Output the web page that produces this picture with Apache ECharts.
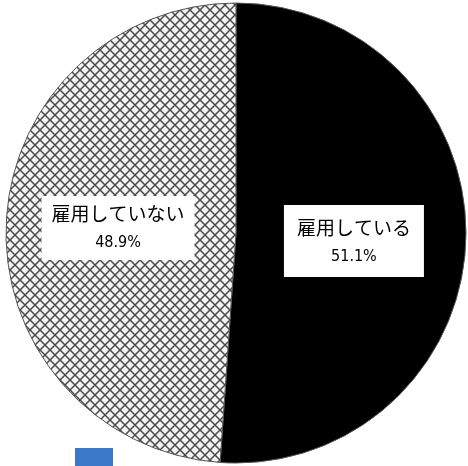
<!DOCTYPE html>
<html>
<head>
<meta charset="utf-8">
<script src="https://cdn.jsdelivr.net/npm/echarts@6/dist/echarts.min.js"></script>
<style>
  html, body { margin: 0; padding: 0; background: #fff; }
  #chart { width: 468px; height: 466px; }
</style>
</head>
<body>
<div id="chart"></div>
<script>
// Share of respondents who employ / do not employ
const categories = ['雇用している', '雇用していない'];
const values = [51.1, 48.9];

// Diagonal cross-hatch tile for the second slice
function hatchTile() {
  const size = 10;
  const c = document.createElement('canvas');
  c.width = size; c.height = size;
  const ctx = c.getContext('2d');
  ctx.fillStyle = '#f4f4f4';
  ctx.fillRect(0, 0, size, size);
  ctx.strokeStyle = '#4a4a4a';
  ctx.lineWidth = 1.5;
  ctx.beginPath();
  ctx.moveTo(-1, -1); ctx.lineTo(size + 1, size + 1);
  ctx.moveTo(size + 1, -1); ctx.lineTo(-1, size + 1);
  ctx.stroke();
  return c;
}

const chart = echarts.init(document.getElementById('chart'), null, { renderer: 'canvas' });

const labelRich = {
  n: { fontFamily: 'Noto Sans CJK JP', fontSize: 19, color: '#000', lineHeight: 30 },
  v: { fontFamily: 'Liberation Sans Narrow, DejaVu Sans Condensed, sans-serif', fontSize: 16, color: '#000', lineHeight: 28 }
};

const fills = [
  { color: '#000000' },
  { color: { image: hatchTile(), repeat: 'repeat' } }
];
const paddings = [[8, 13, 6, 13], [3, 10, 3, 10]];
const offsets = [[0, 4], [0, -1]];

chart.setOption({
  backgroundColor: '#ffffff',
  animation: false,
  series: [{
    type: 'pie',
    center: [236, 233],
    radius: [0, 230],
    startAngle: 90,
    clockwise: true,
    silent: true,
    label: {
      show: true,
      position: 'inside',
      backgroundColor: '#ffffff',
      align: 'center',
      formatter: p => '{n|' + p.name + '}\n{v|' + p.value.toFixed(1) + '%}',
      rich: labelRich
    },
    labelLine: { show: false },
    itemStyle: { borderColor: '#555555', borderWidth: 1 },
    data: categories.map((name, i) => ({
      name: name,
      value: values[i],
      itemStyle: fills[i],
      label: { padding: paddings[i], offset: offsets[i] }
    }))
  }],
  graphic: [{
    type: 'rect',
    shape: { x: 75, y: 448, width: 38, height: 20 },
    style: { fill: '#3b78c6' }
  }]
});
</script>
</body>
</html>
